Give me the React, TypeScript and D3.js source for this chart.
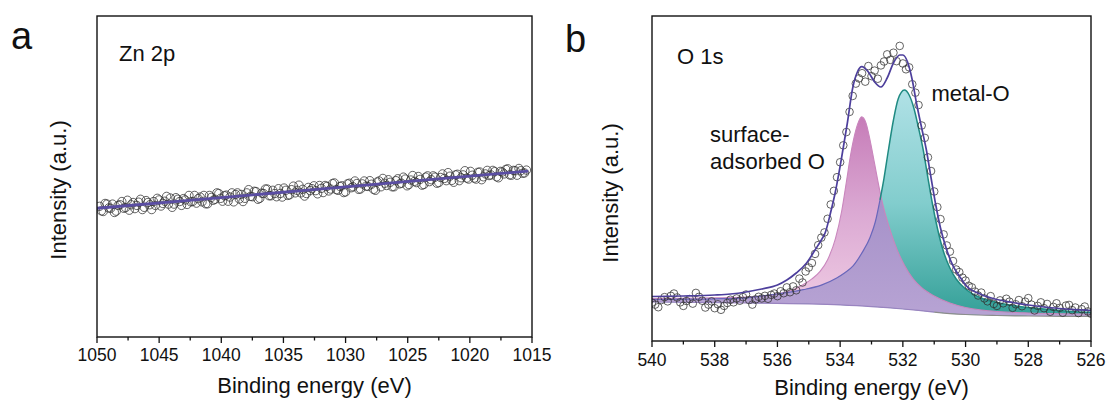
import React from 'react';
import * as d3 from 'd3';

// ---------- Panel a : Zn 2p ----------
const znStartEnergy = 1049.8;
const znStepEnergy = 0.15;
const znIntensity = [
  40.7, 39.3, 39.1, 41.6, 41.4, 40.2, 40.1, 41.4, 38.8, 39.2,
  41.0, 41.2, 42.2, 40.1, 40.3, 42.6, 39.5, 41.2, 41.9, 40.0,
  41.0, 42.0, 42.9, 39.7, 40.4, 42.5, 41.9, 41.2, 39.7, 42.2,
  41.0, 43.2, 42.7, 40.8, 41.6, 42.3, 43.8, 41.4, 43.3, 40.4,
  41.4, 43.4, 42.9, 42.2, 41.0, 43.1, 42.7, 41.3, 44.1, 42.1,
  42.2, 44.1, 41.7, 43.1, 43.6, 42.1, 44.1, 41.5, 41.5, 44.1,
  43.5, 42.6, 42.9, 44.9, 44.7, 43.2, 42.3, 44.0, 44.2, 42.3,
  43.6, 44.9, 42.1, 44.4, 44.9, 43.0, 44.4, 42.2, 43.2, 44.9,
  45.9, 43.8, 43.7, 45.4, 45.3, 42.9, 43.2, 44.8, 44.7, 46.1,
  46.1, 44.0, 44.0, 45.7, 44.7, 43.7, 46.2, 44.7, 43.6, 46.4,
  45.7, 44.1, 44.3, 45.9, 47.0, 44.9, 45.7, 47.3, 44.9, 46.0,
  43.9, 44.7, 46.6, 45.6, 46.2, 47.1, 45.6, 44.6, 47.2, 46.3,
  45.0, 47.2, 46.9, 45.5, 46.1, 47.8, 48.0, 45.9, 45.7, 46.9,
  47.1, 45.0, 45.2, 47.7, 47.9, 46.5, 46.8, 48.6, 47.8, 46.0,
  46.1, 47.7, 48.6, 47.0, 46.9, 48.7, 47.6, 46.0, 45.7, 48.3,
  48.6, 46.8, 49.4, 47.9, 47.2, 49.0, 48.2, 46.8, 46.8, 48.7,
  49.3, 47.7, 47.9, 49.8, 49.2, 47.1, 47.5, 48.9, 50.3, 48.5,
  48.1, 50.0, 49.1, 47.3, 47.5, 49.8, 50.2, 48.4, 49.0, 50.2,
  49.8, 47.9, 48.1, 49.7, 50.8, 49.4, 48.7, 51.2, 50.1, 48.8,
  48.2, 50.5, 50.7, 48.7, 49.6, 50.5, 51.8, 49.5, 49.2, 51.6,
  50.4, 49.5, 49.2, 51.3, 51.4, 49.0, 49.9, 50.8, 51.9, 50.3,
  50.5, 51.9, 51.5, 49.9, 49.6, 51.6, 51.4, 50.8, 52.2, 52.4,
  50.5, 50.4, 51.9, 51.8, 50.4, 52.5, 51.8, 51.0, 51.1, 52.0,
];
const znFitEnergy = [1050, 1040, 1030, 1020, 1015.3];
const znFitIntensity = [40.1, 43.44, 46.79, 50.13, 51.7];
const znMajorTicks = [1050, 1045, 1040, 1035, 1030, 1025, 1020, 1015];
const znMinorTicks = [1047.5, 1042.5, 1037.5, 1032.5, 1027.5, 1022.5, 1017.5];

// ---------- Panel b : O 1s ----------
const oStartEnergy = 540;
const oStepEnergy = 0.1;
const oIntensity = [
  11.8, 11.2, 10.4, 12.6, 13.5, 12.2, 13.9, 14.6, 13.4, 11.9,
  10.8, 12.3, 12.9, 11.5, 14.8, 13.6, 12.4, 10.3, 11.2, 12.2,
  10.1, 11.3, 9.6, 10.8, 11.7, 12.7, 11.9, 13.1, 12.4, 13.5,
  14.3, 12.6, 11.2, 12.8, 13.6, 13.1, 13.9, 13.0, 14.2, 14.6,
  13.8, 15.3, 14.7, 16.5, 15.0, 16.8, 15.6, 19.2, 18.0, 21.4,
  22.6, 24.0, 26.8, 29.5, 31.8, 33.4, 37.6, 42.0, 46.2, 50.4,
  55.0, 60.2, 64.3, 70.5, 75.4, 79.2, 80.8, 82.4, 79.8, 84.6,
  81.5, 83.2, 80.7, 84.8, 86.0, 88.2, 86.5, 88.7, 86.1, 90.8,
  85.4, 83.6, 84.2, 79.0, 76.4, 72.6, 66.3, 62.5, 56.5, 52.3,
  46.0, 41.2, 37.5, 32.8, 29.4, 27.5, 24.6, 22.0, 21.2, 19.5,
  18.6, 17.0, 16.5, 15.2, 14.0, 14.9, 13.1, 12.2, 13.8, 11.4,
  10.8, 12.5, 11.6, 13.0, 12.1, 10.2, 11.3, 12.6, 10.7, 12.1,
  13.2, 11.2, 9.4, 10.8, 11.9, 10.1, 11.4, 9.0, 10.5, 11.6,
  10.2, 8.7, 10.9, 11.1, 9.5, 10.3, 8.6, 9.8, 10.6, 9.1,
  8.4,
];

const bgEnergy = [540, 537, 535, 534, 533, 532.5, 532, 531.5, 531, 530.5, 530, 529, 528, 526];
const bgIntensity = [12.0, 11.7, 11.4, 11.1, 10.6, 10.25, 9.85, 9.4, 8.9, 8.45, 8.15, 7.85, 7.7, 7.55];

const surfEnergy = [540, 539, 538, 537, 536.5, 536, 535.5, 535.2, 534.9, 534.64, 534.4, 534.15, 533.95, 533.8, 533.68, 533.56, 533.45, 533.31, 533.18, 533.05, 532.9, 532.73, 532.6, 532.45, 532.2, 531.95, 531.68, 531.4, 531.0, 530.5, 530.0, 529.5, 529, 528, 527, 526];
const surfIntensity = [13.08, 13.17, 13.29, 13.5, 13.8, 14.5, 15.8, 17.2, 19.1, 21.4, 25.0, 31.5, 40.0, 49.0, 56.5, 62.5, 66.5, 69.0, 67.2, 62.0, 54.5, 46.0, 40.5, 35.5, 28.5, 23.3, 19.2, 16.4, 13.85, 11.69, 10.31, 9.54, 9.08, 8.62, 8.4, 8.31];

const metalEnergy = [540, 539, 538, 537, 536.24, 535.7, 535.18, 534.6, 534.11, 533.85, 533.58, 533.3, 533.04, 532.88, 532.73, 532.6, 532.46, 532.3, 532.15, 531.95, 531.8, 531.65, 531.5, 531.35, 531.2, 531.05, 530.9, 530.7, 530.5, 530.3, 530.0, 529.5, 529.0, 528.5, 528.0, 527.5, 527.0, 526.5, 526.0];
const metalIntensity = [12.77, 12.86, 12.98, 13.29, 14.2, 14.9, 15.8, 17.2, 19.4, 21.0, 23.2, 27.2, 32.0, 36.62, 43.38, 50.15, 58.77, 68.0, 74.46, 77.23, 75.69, 71.69, 65.54, 58.77, 50.15, 41.85, 34.77, 27.38, 22.46, 19.08, 16.0, 13.23, 11.85, 10.92, 10.31, 9.85, 9.38, 9.02, 8.83];

const envEnergy = [540, 539, 538, 537.5, 537, 536.5, 536, 535.7, 535.4, 535.07, 534.8, 534.6, 534.48, 534.3, 534.16, 533.95, 533.77, 533.6, 533.45, 533.31, 533.1, 532.9, 532.7, 532.5, 532.3, 532.1, 532.0, 531.85, 531.7, 531.56, 531.4, 531.25, 531.1, 530.95, 530.8, 530.6, 530.4, 530.2, 530.0, 529.5, 529.0, 528.5, 528.0, 527.5, 527.0, 526.5, 526.0];
const envIntensity = [13.69, 13.85, 14.15, 14.46, 15.08, 16.0, 17.23, 18.77, 20.92, 24.0, 28.0, 31.08, 33.23, 39.69, 45.54, 56.62, 67.08, 77.85, 82.77, 84.4, 82.77, 79.69, 78.15, 80.92, 85.54, 88.0, 88.0, 85.85, 80.31, 72.92, 65.54, 58.77, 50.15, 41.85, 34.77, 28.0, 23.08, 20.0, 17.23, 14.31, 12.77, 11.85, 11.08, 10.46, 10.0, 9.63, 9.38];

const oMajorTicks = [540, 538, 536, 534, 532, 530, 528, 526];
const oMinorTicks = [539, 537, 535, 533, 531, 529, 527];

const FONT = '"Liberation Sans", Arial, Helvetica, sans-serif';

type Pt = [number, number];
const zip = (e: number[], v: number[]): Pt[] => e.map((x, i) => [x, v[i]]);

function Frame({ x0, x1, y0, y1 }: { x0: number; x1: number; y0: number; y1: number }) {
  return <rect x={x0} y={y0} width={x1 - x0} height={y1 - y0} fill="none" stroke="#111" strokeWidth={1.4} />;
}

export default function App() {
  const xa = d3.scaleLinear().domain([1050, 1015]).range([97, 532]);
  const ya = d3.scaleLinear().domain([0, 100]).range([337, 16]);
  const xb = d3.scaleLinear().domain([540, 526]).range([652, 1091]);
  const yb = d3.scaleLinear().domain([0, 100]).range([341, 16]);

  const znPts: Pt[] = znIntensity.map((v, i) => [znStartEnergy - znStepEnergy * i, v]);
  const znFit = zip(znFitEnergy, znFitIntensity);
  const lineA = d3.line<Pt>().x(d => xa(d[0])).y(d => ya(d[1]));

  const oPts: Pt[] = oIntensity.map((v, i) => [oStartEnergy - oStepEnergy * i, v]);
  const bg = d3.scaleLinear().domain(bgEnergy).range(bgIntensity);
  const surf = zip(surfEnergy, surfIntensity);
  const metal = zip(metalEnergy, metalIntensity);
  const env = zip(envEnergy, envIntensity);
  const bgPts = zip(bgEnergy, bgIntensity);

  const areaB = d3.area<Pt>()
    .x(d => xb(d[0]))
    .y0(d => yb(bg(d[0])))
    .y1(d => yb(d[1]))
    .curve(d3.curveMonotoneX);
  const lineB = d3.line<Pt>().x(d => xb(d[0])).y(d => yb(d[1])).curve(d3.curveMonotoneX);

  const crossE = 532.73;
  const metalLeft = metal.filter(d => d[0] >= crossE);
  const metalRight = metal.filter(d => d[0] <= crossE);
  const bgLeft = bgPts.filter(d => d[0] >= 531);
  const bgRight = bgPts.filter(d => d[0] <= 531);

  const yTopA = 337, yTopB = 341;

  return (
    <svg width={1109} height={406} style={{ position: 'absolute', left: 0, top: 0, background: '#fff' }} fontFamily={FONT}>
      <defs>
        <linearGradient id="pinkG" gradientUnits="userSpaceOnUse" x1={0} y1={yb(69)} x2={0} y2={yb(10)}>
          <stop offset="0" stopColor="#c67cb8" />
          <stop offset="0.5" stopColor="#dba9d3" />
          <stop offset="1" stopColor="#efcbe3" />
        </linearGradient>
        <linearGradient id="tealG" gradientUnits="userSpaceOnUse" x1={0} y1={yb(77)} x2={0} y2={yb(8)}>
          <stop offset="0" stopColor="#b0e1e6" />
          <stop offset="0.5" stopColor="#82cdcd" />
          <stop offset="1" stopColor="#34a098" />
        </linearGradient>
        <linearGradient id="purpG" gradientUnits="userSpaceOnUse" x1={0} y1={yb(45)} x2={0} y2={yb(10)}>
          <stop offset="0" stopColor="#a590c8" />
          <stop offset="1" stopColor="#b6a2d3" />
        </linearGradient>
        <clipPath id="pinkClip">
          <path d={areaB(surf) || ''} />
        </clipPath>
        <clipPath id="boxA"><rect x={97} y={16} width={435} height={321} /></clipPath>
        <clipPath id="boxB"><rect x={652} y={16} width={439} height={325} /></clipPath>
      </defs>

      {/* ===== Panel a ===== */}
      <text x={11} y={48.5} fontSize={38} fill="#111">a</text>
      <g clipPath="url(#boxA)">
        {znPts.map((d, i) => (
          <circle key={i} cx={xa(d[0])} cy={ya(d[1])} r={4.2} fill="none" stroke="#303030" strokeWidth={0.75} />
        ))}
        <path d={lineA(znFit) || ''} fill="none" stroke="#5a4da3" strokeWidth={2.8} />
      </g>
      <Frame x0={97} x1={532} y0={16} y1={337} />
      {znMajorTicks.map(t => (
        <g key={'am' + t}>
          <line x1={xa(t)} x2={xa(t)} y1={yTopA} y2={yTopA + 6} stroke="#111" strokeWidth={1.3} />
          <text x={xa(t)} y={360.5} fontSize={17.5} textAnchor="middle" fill="#111">{t}</text>
        </g>
      ))}
      {znMinorTicks.map(t => (
        <line key={'an' + t} x1={xa(t)} x2={xa(t)} y1={yTopA} y2={yTopA + 3.5} stroke="#111" strokeWidth={1.3} />
      ))}
      <text x={314.5} y={393} fontSize={22} textAnchor="middle" fill="#111">Binding energy (eV)</text>
      <text transform="translate(66,190) rotate(-90)" fontSize={22} textAnchor="middle" fill="#111">Intensity (a.u.)</text>
      <text x={119} y={61} fontSize={22} fill="#111">Zn 2p</text>

      {/* ===== Panel b ===== */}
      <text x={565} y={51.5} fontSize={38} fill="#111">b</text>
      <g clipPath="url(#boxB)">
        <path d={areaB(surf) || ''} fill="url(#pinkG)" />
        <path d={areaB(metal) || ''} fill="url(#tealG)" />
        <path d={areaB(metal) || ''} fill="url(#purpG)" clipPath="url(#pinkClip)" />
        <path d={lineB(bgLeft) || ''} fill="none" stroke="#9a84c0" strokeWidth={1.2} />
        <path d={lineB(bgRight) || ''} fill="none" stroke="#8c8c8c" strokeWidth={1.2} />
        <path d={lineB(surf) || ''} fill="none" stroke="#c986bd" strokeWidth={1.1} />
        <path d={lineB(metalLeft) || ''} fill="none" stroke="#6a66bb" strokeWidth={1.2} />
        <path d={lineB(metalRight) || ''} fill="none" stroke="#1f8a82" strokeWidth={1.5} />
        {oPts.map((d, i) => (
          <circle key={i} cx={xb(d[0])} cy={yb(d[1])} r={3.8} fill="none" stroke="#303030" strokeWidth={0.75} />
        ))}
        <path d={lineB(env) || ''} fill="none" stroke="#4d3f9c" strokeWidth={1.7} />
      </g>
      <Frame x0={652} x1={1091} y0={16} y1={341} />
      {oMajorTicks.map(t => (
        <g key={'bm' + t}>
          <line x1={xb(t)} x2={xb(t)} y1={yTopB} y2={yTopB + 6} stroke="#111" strokeWidth={1.3} />
          <text x={xb(t)} y={365.5} fontSize={17.5} textAnchor="middle" fill="#111">{t}</text>
        </g>
      ))}
      {oMinorTicks.map(t => (
        <line key={'bn' + t} x1={xb(t)} x2={xb(t)} y1={yTopB} y2={yTopB + 3.5} stroke="#111" strokeWidth={1.3} />
      ))}
      <text x={871.5} y={395} fontSize={22} textAnchor="middle" fill="#111">Binding energy (eV)</text>
      <text transform="translate(618,193) rotate(-90)" fontSize={22} textAnchor="middle" fill="#111">Intensity (a.u.)</text>
      <text x={677} y={63.5} fontSize={22} fill="#111">O 1s</text>
      <text x={710} y={142} fontSize={22} fill="#111">surface-</text>
      <text x={710} y={168.5} fontSize={22} fill="#111">adsorbed O</text>
      <text x={931.5} y={101} fontSize={22} fill="#111">metal-O</text>
    </svg>
  );
}
